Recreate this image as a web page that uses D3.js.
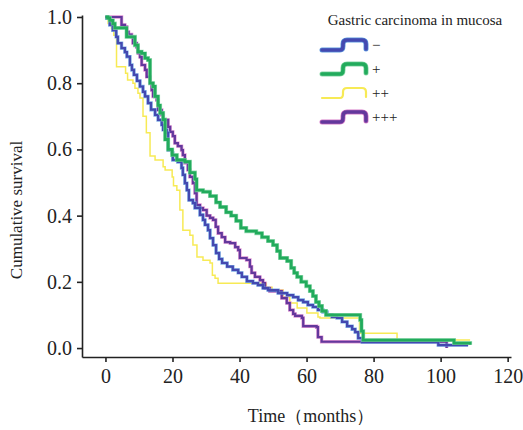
<!DOCTYPE html>
<html>
<head>
<meta charset="utf-8">
<script src="https://cdn.jsdelivr.net/npm/d3@7"></script>
<style>
  body { margin: 0; background: #fff; }
  svg { display: block; font-family: "Liberation Serif", "Times New Roman", serif; }
</style>
</head>
<body>
<div id="chart"></div>
<script>
// groups (gastric carcinoma in mucosa)
const groups = ["\u2212", "+", "++", "+++"];
const colors = ["#4449b0", "#22ab5c", "#f7ea55", "#63389c"];
const halos = ["#5f9be0", "#86d6a6", null, "#d67ac8"];

// Kaplan-Meier steps: time (months) and survival after the step
const negTime = [0, 0.4, 1.3, 2.2, 3.2, 3.7, 4.8, 5.8, 6.4, 7.3, 7.9, 8.5, 9.4, 10.3, 11.2, 11.8, 12.7, 13.6, 14.8, 15.7, 16.8, 17.2, 18.3, 18.7, 19.9, 20.1, 21.6, 22.7, 23.1, 23.7, 24.3, 24.9, 26.1, 26.7, 28.2, 29.1, 29.7, 30.6, 31.2, 32.1, 33.0, 33.9, 34.8, 36.3, 38.0, 39.6, 40.7, 42.2, 44.0, 45.5, 47.0, 48.5, 51.5, 54.2, 56.0, 57.5, 59.0, 60.4, 61.9, 63.4, 64.9, 66.1, 67.6, 69.1, 70.6, 72.1, 73.6, 74.5, 75.4, 76.6, 99.3, 108.2];
const negSurv = [1.0, 0.996, 0.976, 0.96, 0.94, 0.921, 0.906, 0.894, 0.88, 0.855, 0.84, 0.825, 0.807, 0.79, 0.774, 0.76, 0.74, 0.72, 0.704, 0.689, 0.674, 0.659, 0.65, 0.598, 0.589, 0.568, 0.562, 0.544, 0.523, 0.498, 0.477, 0.447, 0.438, 0.423, 0.402, 0.387, 0.372, 0.356, 0.332, 0.311, 0.287, 0.269, 0.257, 0.246, 0.236, 0.227, 0.215, 0.202, 0.196, 0.19, 0.181, 0.175, 0.166, 0.16, 0.154, 0.145, 0.139, 0.13, 0.124, 0.115, 0.109, 0.10, 0.094, 0.091, 0.079, 0.066, 0.057, 0.048, 0.03, 0.018, 0.009, 0.009];

const pTime = [0, 0.7, 1.3, 2.2, 2.8, 6.3, 8.8, 9.7, 10.8, 11.8, 12.7, 13.3, 14.2, 14.8, 15.7, 16.3, 17.2, 17.8, 18.7, 19.9, 21.3, 23.7, 25.2, 26.7, 27.2, 29.1, 31.2, 33.0, 34.2, 36.0, 37.5, 39.0, 40.4, 42.0, 45.0, 46.7, 48.5, 50.0, 51.2, 52.1, 54.2, 55.4, 56.3, 57.2, 58.4, 59.9, 61.0, 61.9, 62.8, 63.7, 64.6, 65.8, 76.0, 76.4, 76.9, 104.0, 108.8];
const pSurv = [1.0, 0.997, 0.99, 0.98, 0.967, 0.94, 0.915, 0.895, 0.89, 0.876, 0.87, 0.80, 0.79, 0.76, 0.733, 0.71, 0.69, 0.63, 0.60, 0.583, 0.568, 0.563, 0.53, 0.51, 0.477, 0.472, 0.459, 0.44, 0.426, 0.41, 0.40, 0.384, 0.363, 0.353, 0.347, 0.335, 0.323, 0.311, 0.293, 0.272, 0.263, 0.242, 0.227, 0.215, 0.20, 0.187, 0.172, 0.157, 0.139, 0.127, 0.112, 0.10, 0.085, 0.051, 0.024, 0.015, 0.01];

const ppTime = [0, 0.8, 1.8, 2.5, 3.3, 6.0, 6.6, 8.2, 8.8, 9.7, 10.3, 11.2, 12.2, 13.3, 14.8, 17.2, 17.8, 19.9, 20.3, 21.3, 22.2, 23.1, 25.2, 26.1, 27.3, 29.1, 31.2, 31.9, 32.7, 33.6, 48.0, 49.7, 53.0, 55.0, 57.2, 60.1, 63.4, 64.0, 75.8, 87.0, 108.8];
const ppSurv = [1.0, 0.98, 0.965, 0.945, 0.85, 0.83, 0.81, 0.80, 0.785, 0.77, 0.755, 0.70, 0.65, 0.58, 0.568, 0.548, 0.538, 0.517, 0.49, 0.477, 0.417, 0.356, 0.341, 0.311, 0.275, 0.265, 0.257, 0.22, 0.211, 0.196, 0.184, 0.175, 0.154, 0.136, 0.121, 0.106, 0.094, 0.091, 0.045, 0.024, 0.024];

const pppTime = [0, 4.8, 5.8, 6.4, 6.9, 7.8, 8.2, 9.3, 9.7, 10.3, 10.8, 11.8, 12.3, 13.3, 13.8, 14.2, 15.3, 15.7, 16.8, 17.2, 18.7, 19.3, 20.1, 20.7, 21.6, 22.7, 23.1, 23.7, 24.6, 25.2, 26.1, 26.7, 27.2, 28.2, 29.1, 30.2, 31.2, 32.1, 32.9, 33.6, 34.7, 35.7, 37.2, 38.7, 39.6, 40.1, 42.1, 43.1, 43.6, 44.6, 46.1, 47.0, 47.6, 49.0, 52.6, 54.1, 55.0, 56.0, 56.6, 58.6, 59.0, 63.0, 63.4, 64.5, 101.8];
const pppSurv = [1.0, 0.976, 0.97, 0.955, 0.947, 0.94, 0.921, 0.909, 0.891, 0.879, 0.855, 0.84, 0.819, 0.80, 0.779, 0.76, 0.749, 0.719, 0.704, 0.689, 0.668, 0.653, 0.64, 0.619, 0.61, 0.598, 0.583, 0.559, 0.538, 0.517, 0.498, 0.468, 0.432, 0.423, 0.417, 0.40, 0.393, 0.387, 0.366, 0.347, 0.335, 0.32, 0.317, 0.305, 0.296, 0.272, 0.266, 0.246, 0.227, 0.215, 0.205, 0.196, 0.181, 0.172, 0.151, 0.136, 0.115, 0.103, 0.097, 0.091, 0.066, 0.063, 0.033, 0.019, 0.0];

const xTicks = [0, 20, 40, 60, 80, 100, 120];
const yTicks = [0, 0.2, 0.4, 0.6, 0.8, 1.0];

const width = 523, height = 430;
const svg = d3.select("#chart").append("svg")
  .attr("width", width)
  .attr("height", height);

const x = d3.scaleLinear().domain([-7, 121]).range([82, 511]);
const y = d3.scaleLinear().domain([-0.027, 1.006]).range([357, 15]);

// axes
const xAxis = svg.append("g")
  .attr("transform", "translate(0,357)")
  .call(d3.axisBottom(x).tickValues(xTicks).tickSize(5).tickSizeOuter(0).tickPadding(7));
const yAxis = svg.append("g")
  .attr("transform", "translate(82,0)")
  .call(d3.axisLeft(y).tickValues(yTicks).tickFormat(d3.format(".1f")).tickSize(5).tickSizeOuter(0).tickPadding(5));

[xAxis, yAxis].forEach(function (g) {
  g.selectAll("path, line").attr("stroke", "#222").attr("stroke-width", 1.6);
  g.selectAll("text").attr("fill", "#222").style("font-size", "20px")
    .style("font-family", "'Liberation Serif', serif");
});

svg.append("text")
  .attr("x", 311).attr("y", 422)
  .attr("text-anchor", "middle")
  .attr("fill", "#222")
  .style("font-size", "18px")
  .text("Time\uFF08months\uFF09");

svg.append("text")
  .attr("transform", "translate(22,210) rotate(-90)")
  .attr("text-anchor", "middle")
  .attr("fill", "#222")
  .style("font-size", "17px")
  .text("Cumulative survival");

// curves
const series = [
  { i: 2, data: d3.zip(ppTime, ppSurv), w: 1.5 },
  { i: 3, data: d3.zip(pppTime, pppSurv), w: 2.2 },
  { i: 0, data: d3.zip(negTime, negSurv), w: 2.2 },
  { i: 1, data: d3.zip(pTime, pSurv), w: 2.8 }
];

const line = d3.line()
  .x(function (d) { return x(d[0]); })
  .y(function (d) { return y(d[1]); })
  .curve(d3.curveStepAfter);

series.forEach(function (s) {
  if (halos[s.i]) {
    svg.append("path")
      .attr("d", line(s.data))
      .attr("fill", "none")
      .attr("stroke", halos[s.i])
      .attr("stroke-width", s.w + 1.2)
      .attr("stroke-opacity", 0.8);
  }
  svg.append("path")
    .attr("d", line(s.data))
    .attr("fill", "none")
    .attr("stroke", colors[s.i])
    .attr("stroke-width", s.w);
});

// legend
const legend = svg.append("g");
legend.append("text")
  .attr("x", 415).attr("y", 25)
  .attr("text-anchor", "middle")
  .attr("fill", "#222")
  .style("font-size", "15px")
  .text("Gastric carcinoma in mucosa");

function legendPath(x0, yb) {
  return "M" + x0 + "," + yb + " H" + (x0 + 18) +
    " Q" + (x0 + 21) + "," + yb + " " + (x0 + 21) + "," + (yb - 4) +
    " V" + (yb - 6) +
    " Q" + (x0 + 21) + "," + (yb - 10) + " " + (x0 + 25) + "," + (yb - 10) +
    " H" + (x0 + 40) +
    " Q" + (x0 + 44) + "," + (yb - 10) + " " + (x0 + 44) + "," + (yb - 6) +
    " V" + (yb - 1);
}

groups.forEach(function (g, i) {
  const yb = 50 + i * 24;
  const w = i === 2 ? 2.2 : 3.6;
  if (halos[i]) {
    legend.append("path")
      .attr("d", legendPath(322, yb))
      .attr("fill", "none")
      .attr("stroke", halos[i])
      .attr("stroke-width", w + 1.4)
      .attr("stroke-linecap", "round");
  }
  legend.append("path")
    .attr("d", legendPath(322, yb))
    .attr("fill", "none")
    .attr("stroke", colors[i])
    .attr("stroke-width", w)
    .attr("stroke-linecap", "round");
  legend.append("text")
    .attr("x", 372).attr("y", yb)
    .attr("fill", "#222")
    .style("font-size", "15px")
    .text(g);
});
</script>
</body>
</html>
